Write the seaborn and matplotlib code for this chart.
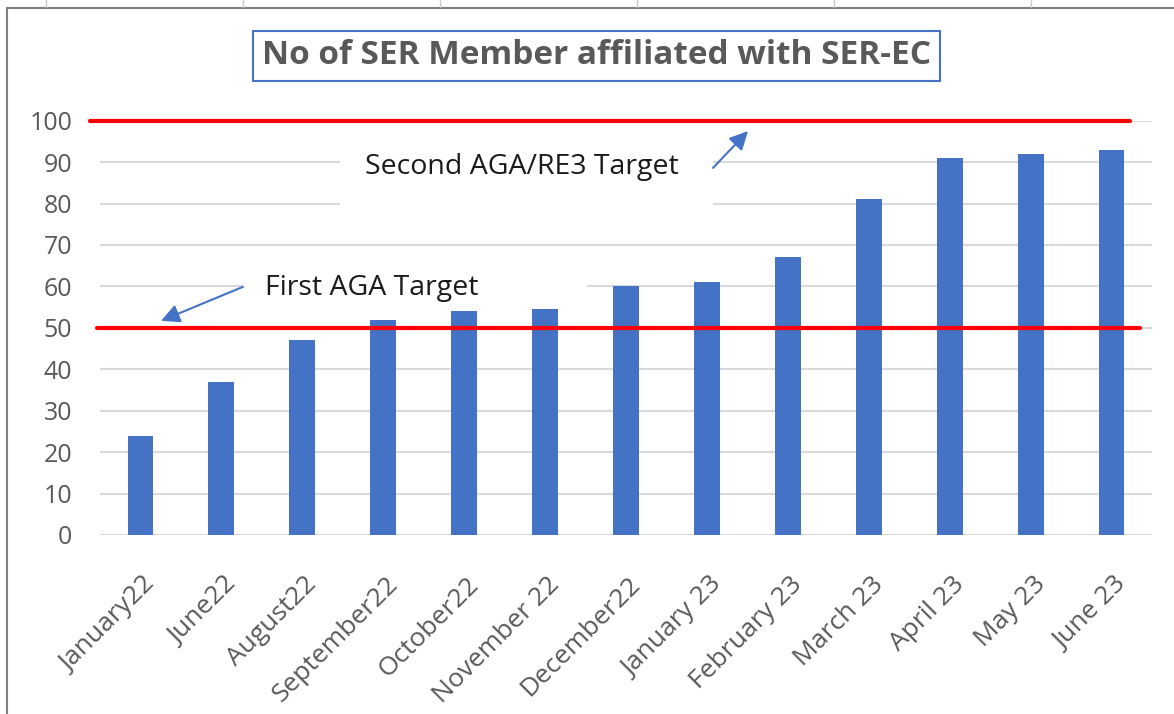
import matplotlib
matplotlib.use("Agg")
import matplotlib.pyplot as plt
import seaborn as sns
from matplotlib.lines import Line2D
from matplotlib.patches import Rectangle
from matplotlib.transforms import ScaledTranslation

# data
months = ["January22", "June22", "August22", "September22", "October22", "November 22",
          "December22", "January 23", "February 23", "March 23", "April 23", "May 23", "June 23"]
members = [24, 37, 47, 52, 54, 54.5, 60, 61, 67, 81, 91, 92, 93]
targets = [50, 100]
target_names = ["First AGA Target", "Second AGA/RE3 Target"]
title = "No of SER Member affiliated with SER-EC"

sns.set_style("white")
plt.rcParams["font.family"] = ["Open Sans", "DejaVu Sans"]

W, H = 1174, 714
fig = plt.figure(figsize=(W / 100, H / 100), dpi=100)
ax = fig.add_axes([100 / W, 1 - 535 / H, 1052 / W, (535 - 120.7) / H])

sns.barplot(x=months, y=members, color="#4472C4", width=0.32, saturation=1,
            linewidth=0, ax=ax, zorder=3)

ax.set_ylim(0, 100)
ax.set_xlim(-0.5, len(months) - 0.5)
ax.set_yticks(range(0, 101, 10))
ax.yaxis.grid(True, color="#D9D9D9", lw=1.5, zorder=0)
ax.set_axisbelow(True)
sns.despine(ax=ax, left=True, bottom=True)
ax.set_xlabel("")
ax.set_ylabel("")

ax.tick_params(axis="both", length=0, labelcolor="#595959")
ax.tick_params(axis="y", pad=20, labelsize=18)
ax.tick_params(axis="x", pad=33, labelsize=19)
ax.set_xticks(range(len(months)))
ax.set_xticklabels(months, rotation=45, ha="right", va="center", rotation_mode="anchor")
for lab in ax.get_xticklabels():
    lab.set_transform(lab.get_transform() + ScaledTranslation(0.11, 0, fig.dpi_scale_trans))

# white boxes hiding the gridlines behind the notes
ax.add_patch(Rectangle((2.466, 77.2), 4.61, 15.7, fc="white", ec="none", zorder=1))
ax.add_patch(Rectangle((1.267, 55.5), 4.25, 9.7, fc="white", ec="none", zorder=1))

# target lines
ax.axhline(targets[1], xmin=-0.0095, xmax=0.979, color="#FF0000", lw=3, clip_on=False, zorder=4)
ax.axhline(targets[0], xmin=-0.003, xmax=0.989, color="#FF0000", lw=3, clip_on=False, zorder=4)

ax.text(2.775, 88.8, target_names[1], fontsize=20.5, color="#1a1a1a", va="center", zorder=5)
ax.text(1.54, 59.6, target_names[0], fontsize=20.5, color="#1a1a1a", va="center", zorder=5)
arrow = dict(arrowstyle="-|>", color="#4472C4", lw=1.5, mutation_scale=28, shrinkA=0, shrinkB=0)
ax.annotate("", xy=(0.254, 51.7), xytext=(1.267, 59.9), arrowprops=arrow, zorder=5)
ax.annotate("", xy=(7.508, 97.5), xytext=(7.075, 88.6), arrowprops=arrow, zorder=5)

# title with its box
fig.text(597 / W, 1 - 56 / H, title, fontsize=24, fontweight="bold", color="#595959",
         ha="center", va="center")
fig.add_artist(Rectangle((253 / W, 1 - 81 / H), 687 / W, 50 / H, transform=fig.transFigure,
                         fill=False, ec="#4472C4", lw=1.5))

# chart frame and sheet column marks
fig.add_artist(Line2D([7 / W, 7 / W], [0, 1 - 8 / H], transform=fig.transFigure, color="#7F7F7F", lw=1.5))
fig.add_artist(Line2D([7 / W, 1], [1 - 8 / H, 1 - 8 / H], transform=fig.transFigure, color="#7F7F7F", lw=1.5))
for px in [46, 243, 440, 637, 834, 1031]:
    fig.add_artist(Line2D([px / W, px / W], [1 - 7 / H, 1], transform=fig.transFigure, color="#C8C8C8", lw=1))

fig.savefig("out.png", dpi=100, facecolor="white")
